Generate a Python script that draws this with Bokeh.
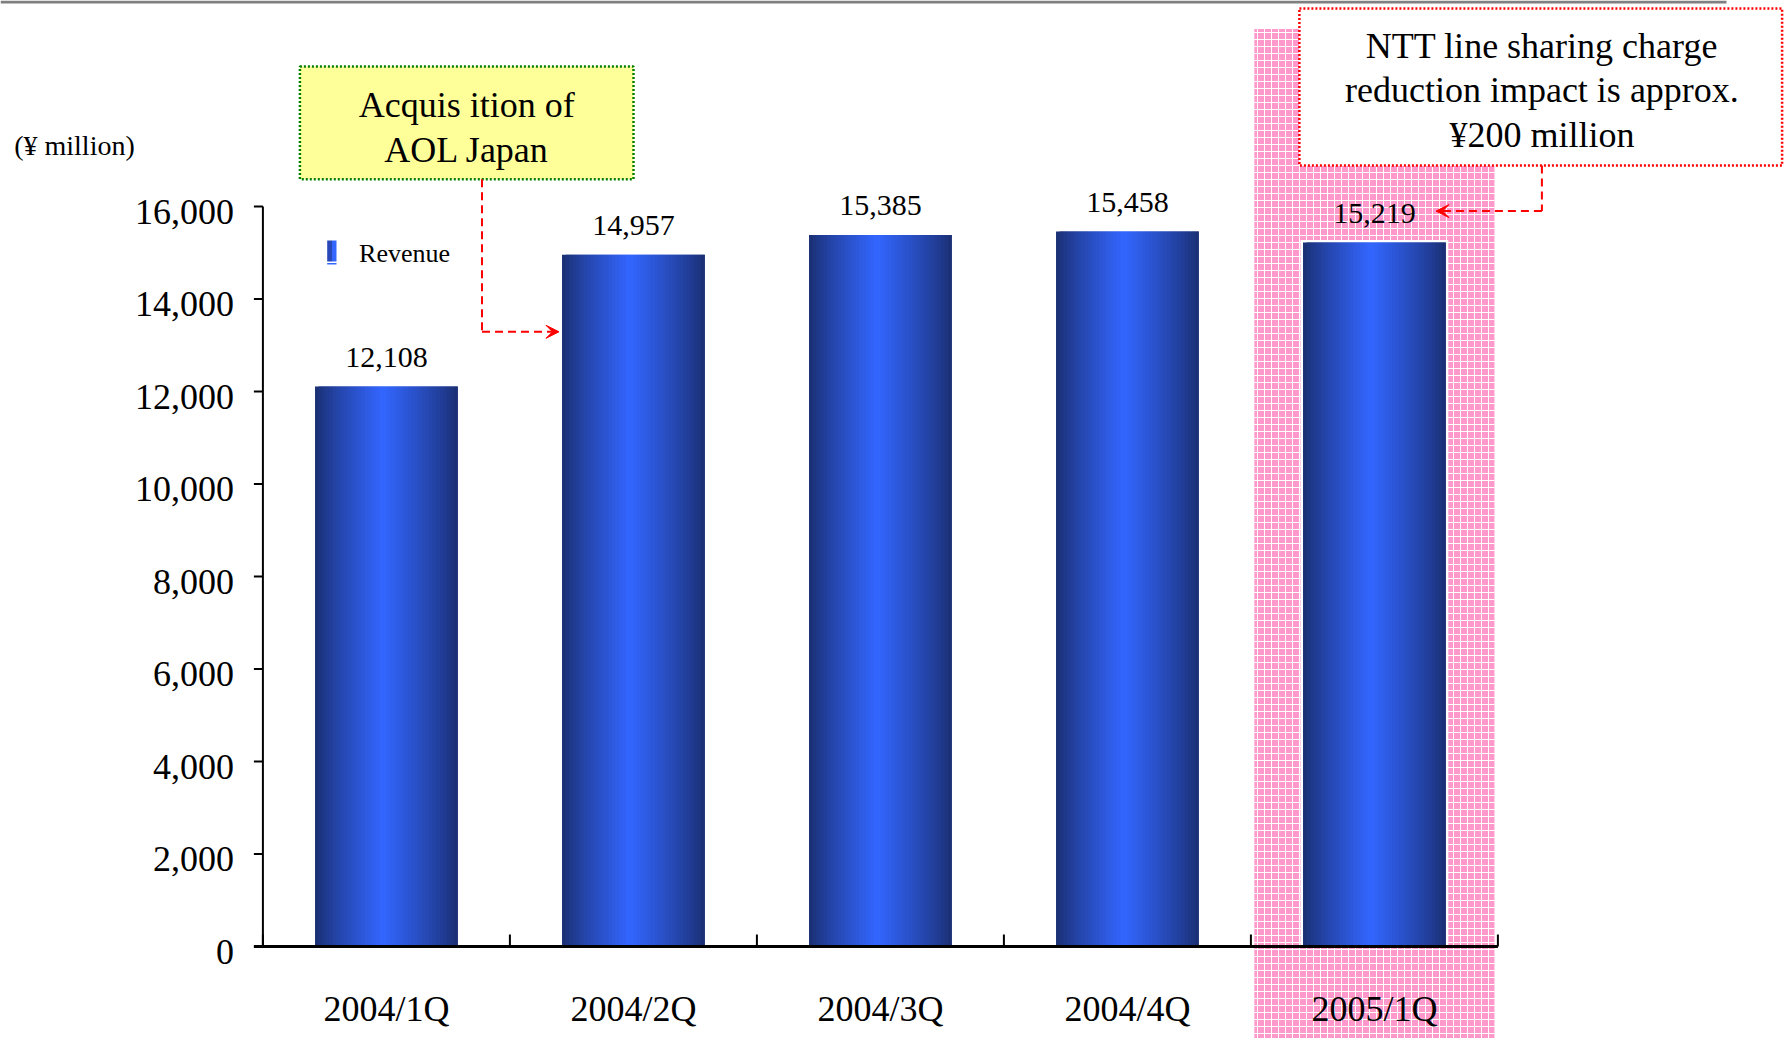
from bokeh.plotting import figure
from bokeh.models import Range1d, Arrow, VeeHead
from bokeh.core.properties import value
from bokeh.embed import file_html
from bokeh.resources import INLINE

# ---- data -------------------------------------------------------------
quarters = ["2004/1Q", "2004/2Q", "2004/3Q", "2004/4Q", "2005/1Q"]
revenue = [12108, 14957, 15385, 15458, 15219]
y_ticks = [0, 2000, 4000, 6000, 8000, 10000, 12000, 14000, 16000]
y_tick_labels = ["0", "2,000", "4,000", "6,000", "8,000",
                 "10,000", "12,000", "14,000", "16,000"]
unit_label = "(¥ million)"
series_name = "Revenue"
note_aol = ["Acquis ition of", "AOL Japan"]
note_ntt = ["NTT line sharing charge", "reduction impact is approx.", "¥200 million"]
highlight_index = 4

# ---- canvas geometry (pixels) ----------------------------------------
W, H = 1785, 1038
CAT0_PX, CAT_STEP_PX = 385.9, 247.0      # centre of first category, spacing
BASE_PX, TOP_PX, TOP_VAL = 946.0, 206.0, 16000
PPU = (BASE_PX - TOP_PX) / TOP_VAL       # pixels per yen-million


def dx(px):
    return (px - CAT0_PX) / CAT_STEP_PX


def dy(py):
    return (BASE_PX - py) / PPU


def wx(px):
    return px / CAT_STEP_PX


def hy(px):
    return px / PPU


SERIF = value("Liberation Serif")

p = figure(width=W, height=H,
           x_range=Range1d(dx(0), dx(W)), y_range=Range1d(dy(H), dy(0)),
           x_axis_type=None, y_axis_type=None,
           output_backend="svg", toolbar_location=None, min_border=0)
p.min_border_left = p.min_border_right = p.min_border_top = p.min_border_bottom = 0
p.outline_line_color = None
p.background_fill_color = "white"
p.border_fill_color = "white"

# grey rule across the top
p.quad(left=[dx(0)], right=[dx(1726)], top=[dy(0)], bottom=[dy(3)],
       fill_color="#7f7f7f", line_color=None)

# highlighted quarter: pink dotted band
hl = highlight_index
p.quad(left=[hl - 0.486], right=[hl + 0.486], top=[dy(28.5)], bottom=[dy(H)],
       fill_color="#ff99cc", line_color=None,
       hatch_pattern="+", hatch_color="white", hatch_scale=7, hatch_weight=1.0)

# ---- bars with a horizontal cylinder-like shading --------------------
BAR_W = 0.578
N_SLICES = 40
DARK = (0x1a, 0x2e, 0x70)
BRIGHT = (0x33, 0x66, 0xff)
PEAK = 0.475


def shade(u):
    d = abs(u - PEAK) / (PEAK if u < PEAK else 1 - PEAK)
    t = max(0.0, 1.0 - d) ** 0.85
    c = [round(a + (b - a) * t) for a, b in zip(DARK, BRIGHT)]
    return "#%02x%02x%02x" % tuple(c)


# white halo behind each bar (shows on the pink band)
p.quad(left=[i - BAR_W / 2 - wx(2.5) for i in range(len(revenue))],
       right=[i + BAR_W / 2 + wx(2.5) for i in range(len(revenue))],
       top=[v + hy(2.5) for v in revenue], bottom=[0] * len(revenue),
       fill_color="white", line_color=None)

# slices overlap their right neighbour so no seams show between them
sl, sr, st, sb, sc = [], [], [], [], []
for i, v in enumerate(revenue):
    x0 = i - BAR_W / 2
    for k in range(N_SLICES):
        u = (k + 0.5) / N_SLICES
        sl.append(x0 + BAR_W * k / N_SLICES)
        sr.append(x0 + BAR_W * min(k + 2, N_SLICES) / N_SLICES)
        st.append(v)
        sb.append(0)
        sc.append(shade(u))
p.quad(left=sl, right=sr, top=st, bottom=sb,
       fill_color=sc, line_color=None)

# value labels
p.text(x=list(range(len(revenue))), y=[v + hy(29) for v in revenue],
       text=[f"{v:,}" for v in revenue],
       text_font=SERIF, text_font_size="30px", text_color="black",
       text_align="center", text_baseline="middle")

# ---- axes -------------------------------------------------------------
left_edge = -0.5
right_edge = len(quarters) - 0.5
p.segment(x0=[left_edge], y0=[0], x1=[left_edge], y1=[y_ticks[-1]],
          line_color="black", line_width=2)
p.segment(x0=[left_edge - wx(9)] * len(y_ticks), y0=y_ticks,
          x1=[left_edge] * len(y_ticks), y1=y_ticks,
          line_color="black", line_width=2)
p.text(x=[left_edge - wx(29)] * len(y_ticks), y=[t - hy(5) for t in y_ticks],
       text=y_tick_labels, text_font=SERIF, text_font_size="36px",
       text_color="black", text_align="right", text_baseline="middle")

p.segment(x0=[left_edge - wx(9)], y0=[0], x1=[right_edge], y1=[0],
          line_color="black", line_width=3)
bounds = [i - 0.5 for i in range(len(quarters) + 1)]
p.segment(x0=bounds, y0=[0] * len(bounds), x1=bounds, y1=[hy(12)] * len(bounds),
          line_color="black", line_width=2)
p.text(x=list(range(len(quarters))), y=[dy(1008.6)] * len(quarters),
       text=quarters, text_font=SERIF, text_font_size="36px",
       text_color="black", text_align="center", text_baseline="middle")

# unit caption
p.text(x=[dx(13.7)], y=[dy(144.6)], text=[unit_label], text_font=SERIF,
       text_font_size="28px", text_color="black",
       text_align="left", text_baseline="middle")

# legend
p.quad(left=[dx(326.7)], right=[dx(331.5)], top=[dy(240)], bottom=[dy(261)],
       fill_color="#2746b8", line_color=None)
p.quad(left=[dx(331.5)], right=[dx(336)], top=[dy(240)], bottom=[dy(261)],
       fill_color="#3366ff", line_color=None)
p.quad(left=[dx(326.7)], right=[dx(336)], top=[dy(262.5)], bottom=[dy(264)],
       fill_color="#3366ff", line_color=None)
p.text(x=[dx(358.6)], y=[dy(252.7)], text=[series_name], text_font=SERIF,
       text_font_size="26px", text_color="black",
       text_align="left", text_baseline="middle")

# ---- callout: AOL Japan acquisition ----------------------------------
p.quad(left=[dx(299.4)], right=[dx(633.0)], top=[dy(66.0)], bottom=[dy(178.7)],
       fill_color="#ffff99", line_color="#008000", line_width=2.5,
       line_dash="2 2")
p.text(x=[dx(466.2)] * 2, y=[dy(104.7), dy(149.1)], text=note_aol,
       text_font=SERIF, text_font_size="36px", text_color="black",
       text_align="center", text_baseline="middle")
p.line(x=[dx(481.5), dx(481.5)], y=[dy(178.7), dy(331.3)],
       line_color="red", line_width=2, line_dash="8 5")
p.add_layout(Arrow(end=VeeHead(size=13, fill_color="red", line_color="red"),
                   x_start=dx(481.5), y_start=dy(331.3),
                   x_end=dx(558.5), y_end=dy(331.3),
                   line_color="red", line_width=2, line_dash="8 5"))

# ---- callout: NTT line sharing charge --------------------------------
p.quad(left=[dx(1298.9)], right=[dx(1781.6)], top=[dy(8.0)], bottom=[dy(165.1)],
       fill_color="white", line_color="red", line_width=2.5, line_dash="2 2")
p.text(x=[dx(1541.4)] * 3, y=[dy(45.5), dy(89.9), dy(134.3)], text=note_ntt,
       text_font=SERIF, text_font_size="36px", text_color="black",
       text_align="center", text_baseline="middle")
p.line(x=[dx(1541.4), dx(1541.4)], y=[dy(165.1), dy(210.6)],
       line_color="red", line_width=2, line_dash="8 5")
p.add_layout(Arrow(end=VeeHead(size=13, fill_color="red", line_color="red"),
                   x_start=dx(1541.4), y_start=dy(210.6),
                   x_end=dx(1435.5), y_end=dy(210.6),
                   line_color="red", line_width=2, line_dash="8 5"))

open("out.html", "w").write(file_html(p, INLINE))
